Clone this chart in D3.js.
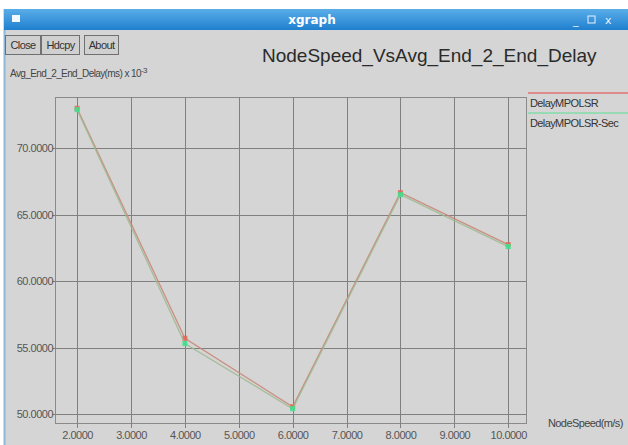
<!DOCTYPE html>
<html><head><meta charset="utf-8">
<script src="https://cdn.jsdelivr.net/npm/d3@7"></script>
<style>
html,body{margin:0;padding:0;background:#fff;}
svg{display:block;}
</style></head>
<body>
<svg id="c" width="628" height="445"></svg>
<script>
const speeds = [2, 4, 6, 8, 10];
const delayMPOLSR = [73.0, 55.7, 50.55, 66.65, 62.75];
const delayMPOLSRSec = [72.9, 55.3, 50.4, 66.5, 62.6];
const seriesNames = ["DelayMPOLSR", "DelayMPOLSR-Sec"];
const xTicks = [2, 3, 4, 5, 6, 7, 8, 9, 10];
const yTicks = [50, 55, 60, 65, 70];
const titleText = "NodeSpeed_VsAvg_End_2_End_Delay";
const yLabel = "Avg_End_2_End_Delay(ms) x 10";
const xLabel = "NodeSpeed(m/s)";
const buttons = ["Close", "Hdcpy", "About"];

const svg = d3.select("#c");
const font = "'Liberation Sans',Arial,sans-serif";

// window chrome
svg.append("rect").attr("x",0).attr("y",0).attr("width",628).attr("height",445).attr("fill","#ffffff");
svg.append("rect").attr("x",4).attr("y",9).attr("width",624).attr("height",436).attr("fill","#d5d5d5");
svg.append("line").attr("x1",4.5).attr("x2",4.5).attr("y1",9).attr("y2",445).attr("stroke","#8fb8d8").attr("stroke-width",2);
const grad = svg.append("defs").append("linearGradient").attr("id","tb").attr("x1",0).attr("x2",0).attr("y1",0).attr("y2",1);
grad.append("stop").attr("offset","0%").attr("stop-color","#5aaee8");
grad.append("stop").attr("offset","100%").attr("stop-color","#1f7fcf");
svg.append("rect").attr("x",4).attr("y",9).attr("width",624).attr("height",21).attr("fill","url(#tb)");
svg.append("rect").attr("x",12).attr("y",15).attr("width",8).attr("height",7).attr("fill","#f4f8ff");
svg.append("text").attr("x",312).attr("y",24).attr("text-anchor","middle").attr("font-family","'DejaVu Sans',sans-serif")
  .attr("font-weight","bold").attr("font-size",12).attr("fill","#ffffff").text("xgraph");
svg.append("text").attr("x",573).attr("y",24).attr("font-family","'DejaVu Sans',sans-serif").attr("font-size",11).attr("fill","#e8f2ff").text("_");
svg.append("rect").attr("x",588).attr("y",16).attr("width",7).attr("height",7).attr("fill","none").attr("stroke","#e8f2ff");
svg.append("text").attr("x",605).attr("y",24).attr("font-family","'DejaVu Sans',sans-serif").attr("font-size",11).attr("fill","#e8f2ff").text("x");

// buttons
const bx = [[5,35],[41,38],[84,34]];
buttons.forEach((b,i)=>{
  svg.append("rect").attr("x",bx[i][0]+0.5).attr("y",35.5).attr("width",bx[i][1]).attr("height",19)
    .attr("fill","#d0d0d0").attr("stroke","#707070");
  svg.append("text").attr("x",bx[i][0]+bx[i][1]/2+0.5).attr("y",49).attr("text-anchor","middle")
    .attr("font-family",font).attr("font-size",11).attr("letter-spacing",-0.6).attr("fill","#333").text(b);
});

// title & labels
svg.append("text").attr("x",262).attr("y",62).attr("font-family",font)
  .attr("font-size",19).attr("fill","#2a2a2a").text(titleText);
const yl = svg.append("text").attr("x",10).attr("y",77).attr("font-family",font).attr("font-size",10)
  .attr("letter-spacing",-0.6).attr("fill","#444");
yl.append("tspan").text(yLabel);
yl.append("tspan").attr("dy",-4).attr("font-size",8).text("-3");
svg.append("text").attr("x",548).attr("y",427).attr("font-family",font).attr("font-size",11)
  .attr("letter-spacing",-0.6).attr("fill","#444").text(xLabel);

// scales
const x = d3.scaleLinear().domain([1.59, 10.33]).range([55, 526]);
const y = d3.scaleLinear().domain([49.25, 73.85]).range([424, 97]);

const g = svg.append("g");
g.append("rect").attr("x",55.5).attr("y",97.5).attr("width",471).attr("height",326)
  .attr("fill","none").attr("stroke","#8a8a8a");
g.selectAll("line.vg").data(xTicks).join("line").attr("class","vg")
  .attr("x1",d=>Math.round(x(d))+0.5).attr("x2",d=>Math.round(x(d))+0.5)
  .attr("y1",97).attr("y2",428).attr("stroke","#808080").attr("stroke-width",1);
g.selectAll("line.hg").data(yTicks).join("line").attr("class","hg")
  .attr("y1",d=>Math.round(y(d))+0.5).attr("y2",d=>Math.round(y(d))+0.5)
  .attr("x1",52).attr("x2",526).attr("stroke","#808080").attr("stroke-width",1);

const xAxis = d3.axisBottom(x).tickValues(xTicks).tickFormat(d3.format(".4f")).tickSize(0).tickPadding(0);
const xa = svg.append("g").attr("transform","translate(0,431)").call(xAxis);
xa.select(".domain").remove();
xa.selectAll("text").attr("font-family",font).attr("font-size",11).attr("letter-spacing",-0.5).attr("fill","#555");

const yAxis = d3.axisLeft(y).tickValues(yTicks).tickFormat(d3.format(".4f")).tickSize(0).tickPadding(0);
const ya = svg.append("g").attr("transform","translate(53,0)").call(yAxis);
ya.select(".domain").remove();
ya.selectAll("text").attr("font-family",font).attr("font-size",11).attr("letter-spacing",-0.5).attr("fill","#555");

// series
const data = [
  {name: seriesNames[0], vals: delayMPOLSR, line: "#c98272", mark: "#e06a5a"},
  {name: seriesNames[1], vals: delayMPOLSRSec, line: "#9cb890", mark: "#3fe08c"}
];
const line = d3.line().x(d=>x(d[0])).y(d=>y(d[1]));
data.forEach(s=>{
  const pts = speeds.map((v,i)=>[v, s.vals[i]]);
  svg.append("path").datum(pts).attr("d",line).attr("fill","none")
    .attr("stroke",s.line).attr("stroke-width",1.3).attr("opacity",0.85);
  svg.selectAll(null).data(pts).join("rect")
    .attr("x",d=>x(d[0])-2.5).attr("y",d=>y(d[1])-2.5).attr("width",5).attr("height",5)
    .attr("fill",s.mark).attr("opacity",0.9);
});

// legend
svg.append("line").attr("x1",528).attr("x2",628).attr("y1",93).attr("y2",93).attr("stroke","#e07070").attr("stroke-width",1.5);
svg.append("text").attr("x",530).attr("y",107).attr("font-family",font).attr("font-size",11).attr("letter-spacing",-0.6).attr("fill","#333").text(seriesNames[0]);
svg.append("line").attr("x1",528).attr("x2",628).attr("y1",113).attr("y2",113).attr("stroke","#80dca8").attr("stroke-width",1.5);
svg.append("text").attr("x",530).attr("y",127).attr("font-family",font).attr("font-size",11).attr("letter-spacing",-0.6).attr("fill","#333").text(seriesNames[1]);
</script>
</body></html>
